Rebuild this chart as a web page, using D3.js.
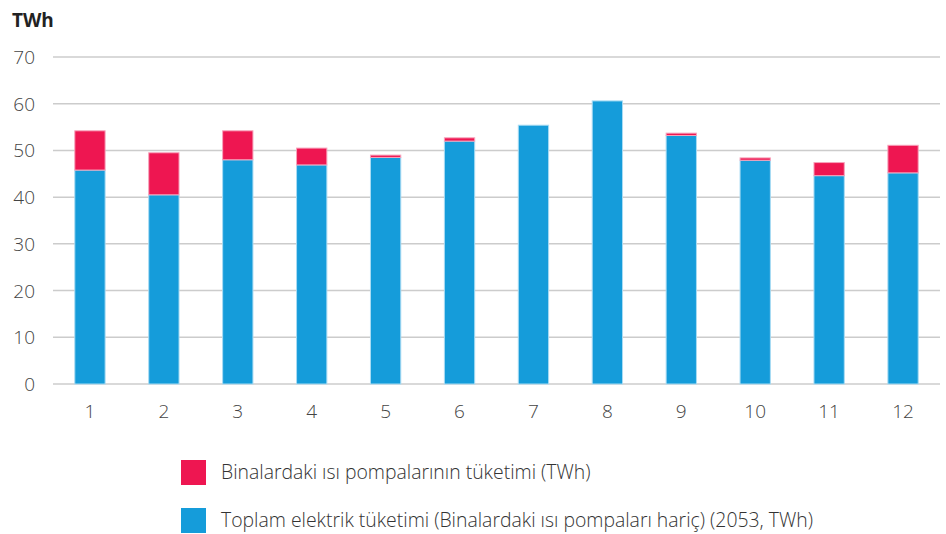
<!DOCTYPE html>
<html><head><meta charset="utf-8">
<script src="https://cdn.jsdelivr.net/npm/d3@7"></script>
<style>body{margin:0;background:#fff;}svg{display:block;font-family:"Open Sans","Noto Sans",sans-serif;}</style>
</head><body><svg id="c" width="946" height="534"></svg>
<script>
const months = ["1","2","3","4","5","6","7","8","9","10","11","12"];
const baseValues = [45.8,40.5,48.0,46.9,48.5,52.0,55.4,60.6,53.2,47.9,44.6,45.2];
const heatPumpValues = [8.4,9.0,6.2,3.6,0.5,0.7,0,0,0.5,0.5,2.8,5.9];
const yTicks = [0,10,20,30,40,50,60,70];
const seriesNames = ["Binalardaki ısı pompalarının tüketimi (TWh)","Toplam elektrik tüketimi (Binalardaki ısı pompaları hariç) (2053, TWh)"];
const colors = ["#EE1651","#159CDA"];

const svg = d3.select("#c");
const x = d3.scaleBand().domain(months).range([53,940]).paddingInner(0.59).paddingOuter(0.295);
const y = d3.scaleLinear().domain([0,70]).range([384,57]);

const grid = svg.append("g");
grid.selectAll("line").data(yTicks).join("line")
 .attr("x1",53).attr("x2",940).attr("y1",d=>y(d)).attr("y2",d=>y(d))
 .attr("stroke","#cccccc").attr("stroke-width",1.5);
svg.append("g").selectAll("text").data(yTicks).join("text")
 .attr("x",35).attr("y",d=>y(d)+7).attr("text-anchor","end")
 .attr("font-size",19).attr("font-weight",300).attr("fill","#444").text(d=>d);

const data = months.map((m,i)=>({m,base:baseValues[i],hp:heatPumpValues[i]}));
const g = svg.append("g");
g.selectAll("rect.b").data(data).join("rect").attr("class","b")
 .attr("x",d=>x(d.m)).attr("width",x.bandwidth())
 .attr("y",d=>y(d.base)).attr("height",d=>y(0)-y(d.base))
 .attr("fill",colors[1]).attr("stroke","#a9dcf3").attr("stroke-width",1);
g.selectAll("rect.h").data(data.filter(d=>d.hp>0)).join("rect").attr("class","h")
 .attr("x",d=>x(d.m)).attr("width",x.bandwidth())
 .attr("y",d=>y(d.base+d.hp)).attr("height",d=>y(d.base)-y(d.base+d.hp))
 .attr("fill",colors[0]).attr("stroke","#f7a3bb").attr("stroke-width",1);

svg.append("g").selectAll("text").data(months).join("text")
 .attr("x",d=>x(d)+x.bandwidth()/2).attr("y",418).attr("text-anchor","middle")
 .attr("font-size",19).attr("font-weight",300).attr("fill","#444").text(d=>d);

svg.append("text").attr("x",12).attr("y",27).attr("font-size",19).attr("font-weight","bold").attr("fill","#222").text("TWh");

const leg = svg.append("g");
seriesNames.forEach((s,i)=>{
  const yy = 460 + i*48;
  leg.append("rect").attr("x",181).attr("y",yy).attr("width",25).attr("height",25).attr("fill",colors[i]);
  leg.append("text").attr("x",221).attr("y",yy+19).attr("font-size",19.4).attr("font-weight",300).attr("fill","#333").text(s);
});
</script></body></html>
